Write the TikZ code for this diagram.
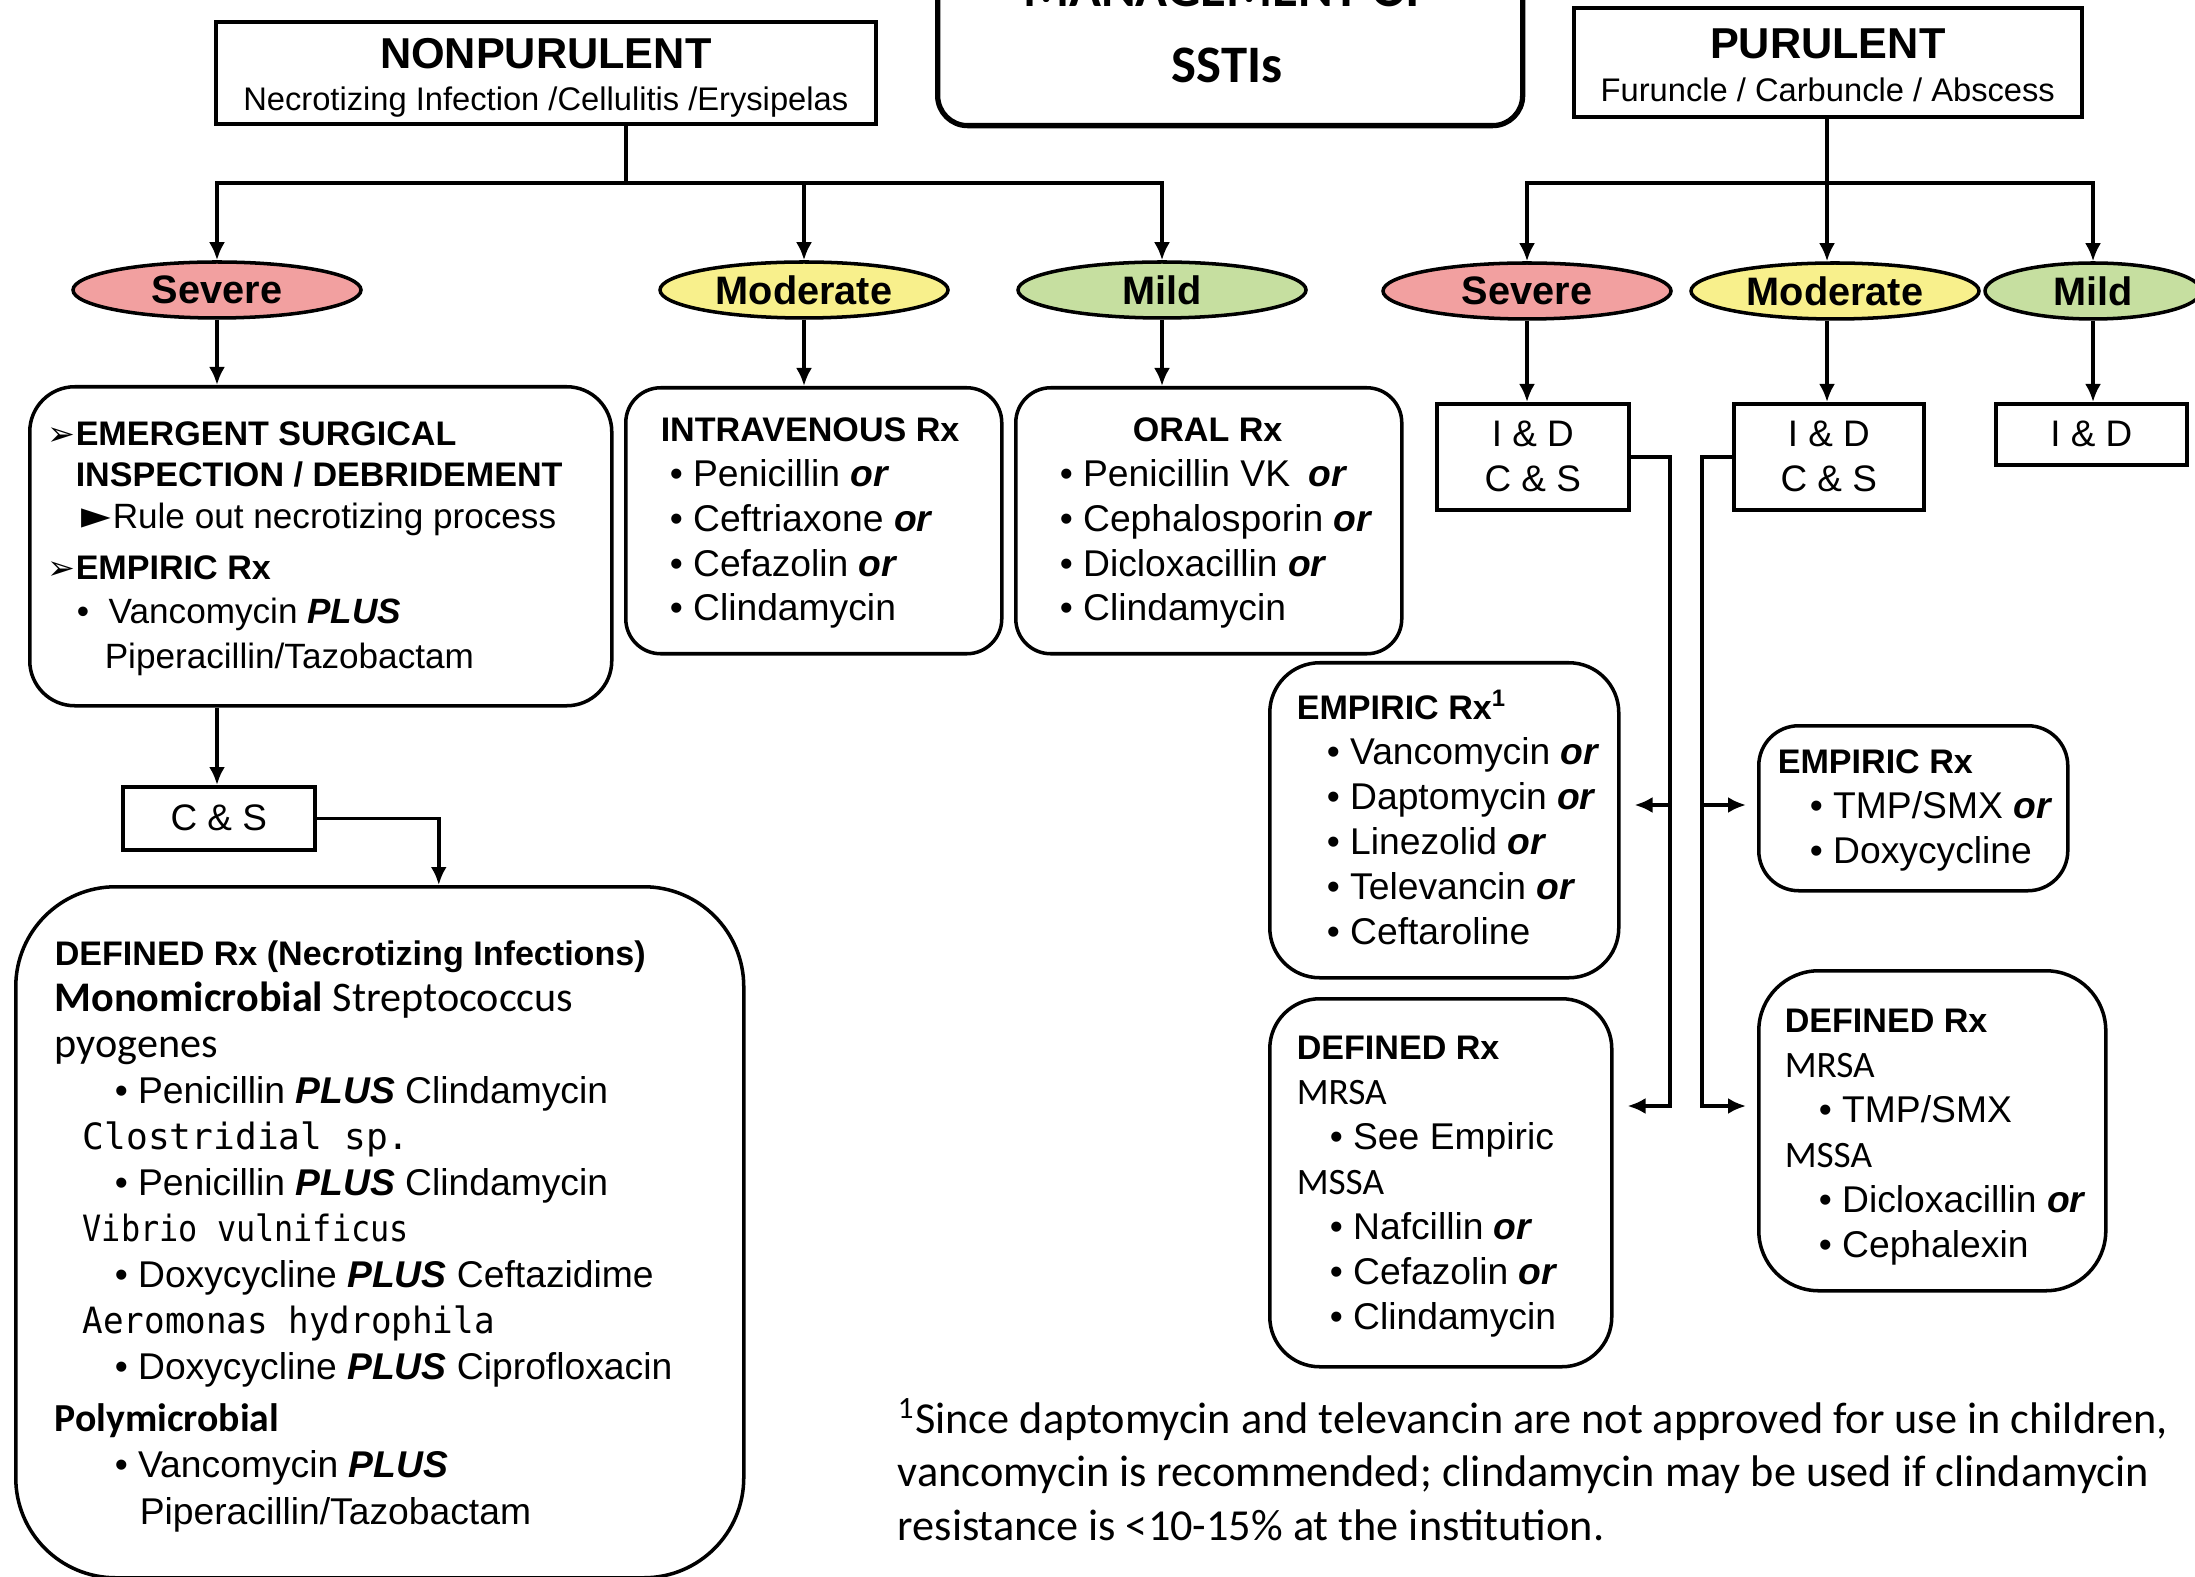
\documentclass[tikz,border=0pt]{standalone}
\usepackage{fontspec}
\usepackage{graphicx}
\setmainfont{Liberation Sans}
\newfontfamily\calfont{Carlito}
\newfontfamily\monofont{DejaVu Sans Mono}
\newfontfamily\dingfont{DejaVu Sans}
\usetikzlibrary{shapes.geometric,arrows.meta}
\definecolor{sevfill}{RGB}{242,160,160}
\definecolor{modfill}{RGB}{248,240,140}
\definecolor{mildfill}{RGB}{198,223,160}
\newcommand{\hd}[1]{{\fontsize{9.7}{12.8}\selectfont\bfseries #1}}
\newcommand{\OR}{\textbf{\textit{or}}}
\newcommand{\PLUS}{\textbf{\textit{PLUS}}}
\newcommand{\pick}{\makebox[2.8mm][l]{\dingfont\fontsize{9.5}{10}\selectfont ➢}}
\newcommand{\spec}[2]{\scalebox{#1}[1]{\monofont\fontsize{10.3}{13.1}\selectfont #2}}

\begin{document}
\begin{tikzpicture}[>={Latex[length=1.8mm,width=1.6mm]}, line width=1pt]
  \tikzstyle{rxbox}=[draw, rounded corners=3.5mm, anchor=north west, inner sep=0pt]
  \tikzstyle{idbox}=[draw, rectangle, inner sep=0pt, align=center, anchor=north west, font=\fontsize{10.5}{12.8}\selectfont]
  \tikzstyle{rxtext}=[anchor=base west, align=left, inner sep=0pt, font=\fontsize{10.6}{12.8}\selectfont]
  \tikzstyle{grade}=[ellipse, draw, minimum width=2.88cm, minimum height=0.56cm, inner sep=0pt, font=\fontsize{11.3}{13}\selectfont\bfseries]
  \tikzstyle{severe}=[grade, fill=sevfill]
  \tikzstyle{moderate}=[grade, fill=modfill]
  \tikzstyle{mild}=[grade, fill=mildfill]
  \tikzstyle{kind}=[draw, rectangle, inner sep=0pt, align=center, anchor=north west, font=\fontsize{9.3}{12}\selectfont]

  \path[use as bounding box, fill=white] (0,0) rectangle (21.95,-15.77);
  \clip (0,0) rectangle (21.95,-15.77);

  \node[draw, rounded corners=3mm, line width=1.5pt, minimum width=5.85cm, minimum height=2.03cm, anchor=north west] (title) at (9.35,0.80) {};
  \node[anchor=base, font=\calfont\fontsize{15}{18}\selectfont\bfseries] (titletop) at (12.27,-0.07) {MANAGEMENT OF};
  \node[anchor=base, font=\calfont\fontsize{15}{18}\selectfont\bfseries] (titlebot) at (12.27,-0.83) {SSTIs};

  \node[kind, minimum width=6.60cm, minimum height=1.02cm] (np) at (2.14,-0.20) {\rule{0pt}{11.4pt}{\fontsize{12.3}{12}\selectfont\bfseries NONPURULENT}\\Necrotizing Infection /Cellulitis /Erysipelas};
  \node[kind, minimum width=5.08cm, minimum height=1.09cm] (pu) at (15.72,-0.06) {\rule{0pt}{10.2pt}{\fontsize{12.3}{12}\selectfont\bfseries PURULENT}\\Furuncle / Carbuncle / Abscess};

  \node[severe] (sevnp) at (2.17,-2.90) {Severe};
  \node[moderate] (modnp) at (8.04,-2.90) {Moderate};
  \node[mild] (mildnp) at (11.62,-2.90) {Mild};
  \node[severe] (sevpu) at (15.27,-2.91) {Severe};
  \node[moderate] (modpu) at (18.35,-2.91) {Moderate};
  \node[mild, minimum width=2.16cm] (mildpu) at (20.93,-2.91) {Mild};

  \node[rxbox, rounded corners=4.5mm, minimum width=5.82cm, minimum height=3.19cm] (sevbox) at (0.28,-3.85) {};
  \node[rxtext, font=\fontsize{10}{11.95}\selectfont] (sevtxt) at (0.46,-6.69) {\pick\hd{EMERGENT SURGICAL}\\\hspace*{2.8mm}\hd{INSPECTION / DEBRIDEMENT}\\\hspace*{3.4mm}\makebox[3.1mm][l]{\dingfont\fontsize{11}{10}\selectfont ►}Rule out necrotizing process\\[0.9mm]\pick\hd{EMPIRIC Rx}\\[0.2mm]\hspace*{2.9mm}\makebox[3.2mm][l]{•}Vancomycin \PLUS\\[0.3mm]\hspace*{5.7mm}Piperacillin/Tazobactam};

  \node[rxbox, minimum width=3.76cm, minimum height=2.66cm] (ivbox) at (6.24,-3.86) {};
  \node[rxtext] (ivtxt) at (6.59,-6.21) {\hd{INTRAVENOUS Rx}\\\hspace*{0.9mm}• Penicillin \OR\\\hspace*{0.9mm}• Ceftriaxone \OR\\\hspace*{0.9mm}• Cefazolin \OR\\\hspace*{0.9mm}• Clindamycin};

  \node[rxbox, minimum width=3.86cm, minimum height=2.66cm] (oralbox) at (10.14,-3.86) {};
  \node[rxtext] (oraltxt) at (10.58,-6.21) {\hspace*{7.3mm}\hd{ORAL Rx}\\• Penicillin VK\hspace{0.5em}\OR\\• Cephalosporin \OR\\• Dicloxacillin \OR\\• Clindamycin};

  \node[idbox, minimum width=1.92cm, minimum height=1.06cm] (idsev) at (14.35,-4.02) {I \& D\\C \& S};
  \node[idbox, minimum width=1.90cm, minimum height=1.06cm] (idmod) at (17.32,-4.02) {I \& D\\C \& S};
  \node[idbox, minimum width=1.91cm, minimum height=0.61cm] (idmild) at (19.94,-4.02) {I \& D};

  \node[idbox, minimum width=1.92cm, minimum height=0.63cm] (cs) at (1.21,-7.85) {C \& S};

  \node[rxbox, rounded corners=10mm, minimum width=7.28cm, minimum height=6.91cm] (necdef) at (0.14,-8.85) {};
  \node[rxtext, font=\fontsize{10.6}{13.1}\selectfont] (nectxt) at (0.53,-15.24) {\hd{DEFINED Rx (Necrotizing Infections)}\\{\calfont\fontsize{12}{13.1}\selectfont\textbf{Monomicrobial} Streptococcus}\\{\calfont\fontsize{12}{13.1}\selectfont pyogenes}\\\hspace*{6mm}• Penicillin \PLUS\ Clindamycin\\\hspace*{2.8mm}\spec{1}{Clostridial sp.}\\\hspace*{6mm}• Penicillin \PLUS\ Clindamycin\\\hspace*{2.8mm}\spec{0.88}{Vibrio vulnificus}\\\hspace*{6mm}• Doxycycline \PLUS\ Ceftazidime\\\hspace*{2.8mm}\spec{0.945}{Aeromonas hydrophila}\\\hspace*{6mm}• Doxycycline \PLUS\ Ciprofloxacin\\[0.6mm]{\calfont\fontsize{11.3}{13.1}\selectfont\bfseries Polymicrobial}\\\hspace*{6mm}• Vancomycin \PLUS\\\hspace*{8.5mm}Piperacillin/Tazobactam};

  \node[rxbox, rounded corners=5mm, minimum width=3.49cm, minimum height=3.15cm] (empl) at (12.68,-6.61) {};
  \node[rxtext] (empltxt) at (12.95,-9.44) {\hd{EMPIRIC Rx\textsuperscript{1}}\\\hspace*{3mm}• Vancomycin \OR\\\hspace*{3mm}• Daptomycin \OR\\\hspace*{3mm}• Linezolid \OR\\\hspace*{3mm}• Televancin \OR\\\hspace*{3mm}• Ceftaroline};
  \node[rxbox, rounded corners=5mm, minimum width=3.42cm, minimum height=3.68cm] (defl) at (12.68,-9.97) {};
  \node[rxtext] (defltxt) at (12.95,-13.29) {\hd{DEFINED Rx}\\{\calfont MRSA}\\\hspace*{3.3mm}• See Empiric\\{\calfont MSSA}\\\hspace*{3.3mm}• Nafcillin \OR\\\hspace*{3.3mm}• Cefazolin \OR\\\hspace*{3.3mm}• Clindamycin};
  \node[rxbox, rounded corners=4mm, minimum width=3.09cm, minimum height=1.65cm] (empr) at (17.57,-7.24) {};
  \node[rxtext] (emprtxt) at (17.76,-8.63) {\hd{EMPIRIC Rx}\\\hspace*{3.2mm}• TMP/SMX \OR\\\hspace*{3.2mm}• Doxycycline};
  \node[rxbox, rounded corners=6mm, minimum width=3.47cm, minimum height=3.20cm] (defr) at (17.57,-9.69) {};
  \node[rxtext] (defrtxt) at (17.83,-12.57) {\hd{DEFINED Rx}\\{\calfont MRSA}\\\hspace*{3.4mm}• TMP/SMX\\{\calfont MSSA}\\\hspace*{3.4mm}• Dicloxacillin \OR\\\hspace*{3.4mm}• Cephalexin};

  \node[anchor=base west, align=left, inner sep=0pt, font=\calfont\fontsize{12.6}{15.1}\selectfont] (foot) at (8.96,-15.40) {\textsuperscript{1}Since daptomycin and televancin are not approved for use in children,\\vancomycin is recommended; clindamycin may be used if clindamycin\\resistance is <10-15\% at the institution.};

  \coordinate (npsplit) at (6.26,-1.83);
  \coordinate (pusplit) at (18.27,-1.83);
  \draw (npsplit |- np.south) -- (npsplit);
  \draw[->] (npsplit) -| (sevnp);
  \draw[->] (npsplit) -| (modnp);
  \draw[->] (npsplit) -| (mildnp);
  \draw (pu.south -| pusplit) -- (pusplit);
  \draw[->] (pusplit) -| (sevpu);
  \draw[->] (pusplit) -- (pusplit |- modpu.north);
  \draw[->] (pusplit) -| (mildpu);

  \draw[->] (sevnp) -- (sevnp |- sevbox.north);
  \draw[->] (modnp) -- (modnp |- ivbox.north);
  \draw[->] (mildnp) -- (mildnp |- oralbox.north);
  \draw[->] (sevpu) -- (sevpu |- idsev.north);
  \draw[->] (pusplit |- modpu.south) -- (pusplit |- idmod.north);
  \draw[->] (mildpu) -- (mildpu |- idmild.north);
  \draw[->] (sevnp |- sevbox.south) -- (sevnp |- cs.north);
  \draw[->] (cs.east) -| ([xshift=5.9mm]necdef.north);

  \coordinate (sevtrunk) at (16.70,-11.06);
  \coordinate (modtrunk) at (17.02,-11.06);
  \draw[->, shorten >=1.4mm] (idsev.east) -| (sevtrunk) -- (sevtrunk -| defl.east);
  \draw[->, shorten >=1.4mm] (sevtrunk |- 0,-8.05) -- (empl.east |- 0,-8.05);
  \draw[->, shorten >=1.1mm] (idmod.west) -| (modtrunk) -- (modtrunk -| defr.west);
  \draw[->, shorten >=1.1mm] (modtrunk |- 0,-8.05) -- (empr.west |- 0,-8.05);
\end{tikzpicture}
\end{document}
